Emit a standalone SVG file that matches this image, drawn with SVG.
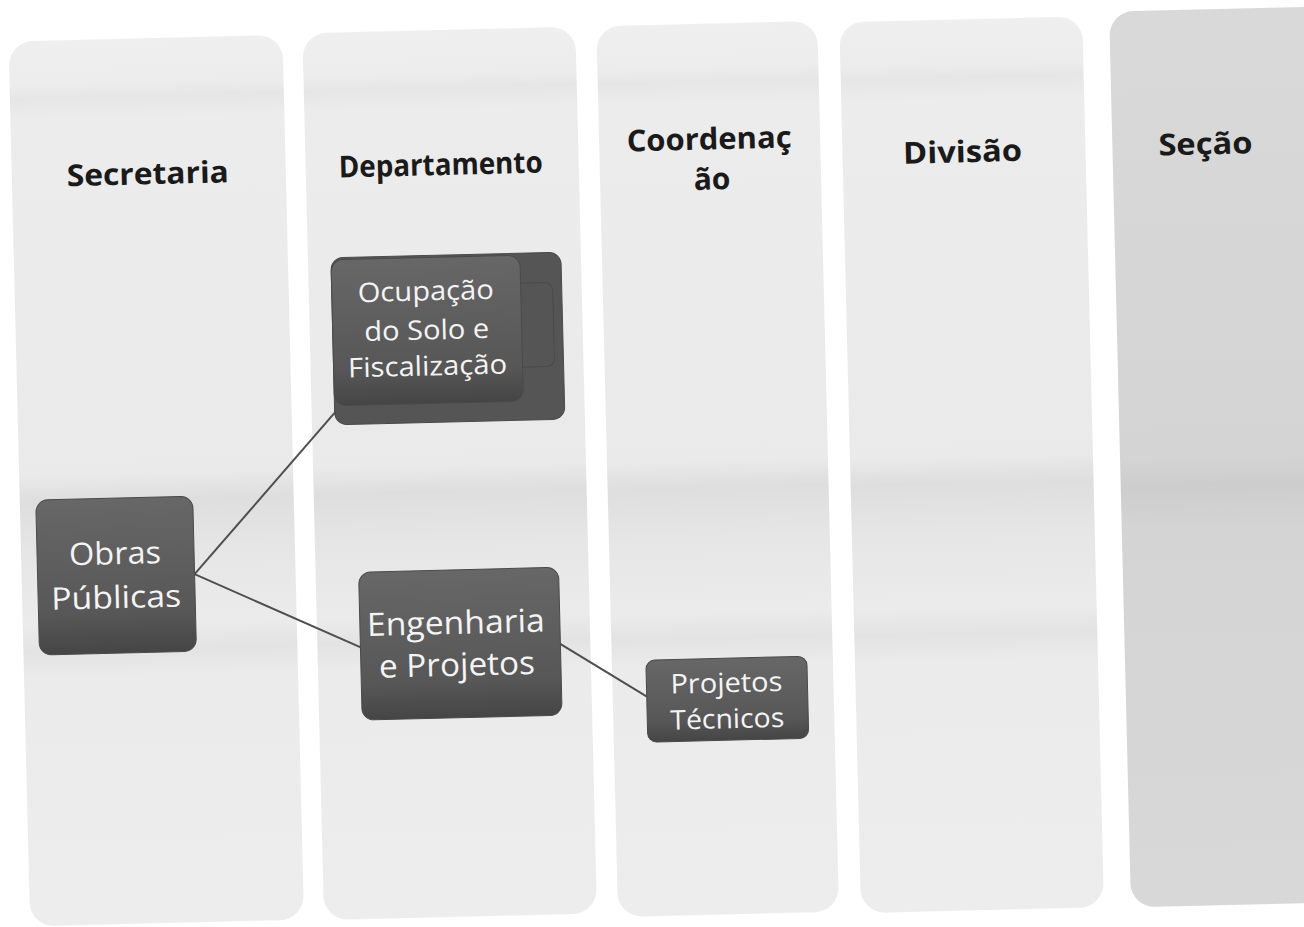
<svg xmlns="http://www.w3.org/2000/svg" width="1304" height="927" viewBox="0 0 1304 927">
  <defs>
    <linearGradient id="colFill" x1="0" y1="0" x2="0" y2="1">
      <stop offset="0" stop-color="#efefef"/>
      <stop offset="0.05" stop-color="#ececec"/>
      <stop offset="0.065" stop-color="#e6e6e6"/>
      <stop offset="0.09" stop-color="#ececec"/>
      <stop offset="0.49" stop-color="#eaeaea"/>
      <stop offset="0.52" stop-color="#dedede"/>
      <stop offset="0.58" stop-color="#e6e6e6"/>
      <stop offset="0.66" stop-color="#ebebeb"/>
      <stop offset="0.69" stop-color="#e3e3e3"/>
      <stop offset="0.72" stop-color="#ebebeb"/>
      <stop offset="1" stop-color="#ededed"/>
    </linearGradient>
    <linearGradient id="colFillDark" x1="0" y1="0" x2="0" y2="1">
      <stop offset="0" stop-color="#d9d9d9"/>
      <stop offset="0.5" stop-color="#d4d4d4"/>
      <stop offset="0.53" stop-color="#cdcdcd"/>
      <stop offset="0.58" stop-color="#d4d4d4"/>
      <stop offset="1" stop-color="#d8d8d8"/>
    </linearGradient>
    <linearGradient id="nodeFill" x1="0" y1="0" x2="0" y2="1">
      <stop offset="0" stop-color="#676767"/>
      <stop offset="0.75" stop-color="#575757"/>
      <stop offset="1" stop-color="#454545"/>
    </linearGradient>
    <style>
      .col { fill: url(#colFill); }
      .colDark { fill: url(#colFillDark); }
      .hdr { font-family: "Open Sans", "Liberation Sans", sans-serif; font-weight: 700; font-size: 30px; fill: #1a1a1a; text-anchor: middle; }
      .node { fill: url(#nodeFill); stroke: #4a4a4a; stroke-width: 1; }
      .nodeBack { fill: #555555; stroke: #4a4a4a; stroke-width: 1; }
      .lbl { font-family: "Open Sans", "Liberation Sans", sans-serif; font-weight: 400; fill: #f4f4f4; text-anchor: middle; }
      .conn { stroke: #4e4e4e; stroke-width: 2; fill: none; }
    </style>
  </defs>
  <rect width="1304" height="927" fill="#ffffff"/>
  <g transform="rotate(-1.4 652 463)">
    <g id="col-secretaria">
      <rect class="col" x="19" y="26" width="274" height="885" rx="24"/>
      <text class="hdr" x="155" y="172" textLength="162" lengthAdjust="spacingAndGlyphs">Secretaria</text>
    </g>
    <g id="col-departamento">
      <rect class="col" x="313" y="25" width="273" height="887" rx="24"/>
      <text class="hdr" x="448" y="170" textLength="204" lengthAdjust="spacingAndGlyphs">Departamento</text>
    </g>
    <g id="col-coordenacao">
      <rect class="col" x="607" y="25" width="221" height="891" rx="24"/>
      <text class="hdr" x="717" y="151" textLength="165" lengthAdjust="spacingAndGlyphs">Coordenaç</text>
      <text class="hdr" x="719" y="191">ão</text>
    </g>
    <g id="col-divisao">
      <rect class="col" x="850" y="27" width="243" height="891" rx="24"/>
      <text class="hdr" x="970" y="170" textLength="119" lengthAdjust="spacingAndGlyphs">Divisão</text>
    </g>
    <g id="col-secao">
      <rect class="colDark" x="1120" y="23" width="220" height="896" rx="24"/>
      <text class="hdr" x="1213" y="168" textLength="94" lengthAdjust="spacingAndGlyphs">Seção</text>
    </g>

    <g id="connectors">
      <line class="conn" x1="192" y1="563" x2="337" y2="404"/>
      <line class="conn" x1="192" y1="563" x2="358" y2="641"/>
      <line class="conn" x1="555" y1="641" x2="642" y2="697"/>
    </g>

    <g id="node-obras">
      <rect class="node" x="35" y="485" width="157" height="155" rx="12"/>
      <text class="lbl" font-size="31" x="113" y="551" textLength="92" lengthAdjust="spacingAndGlyphs">Obras</text>
      <text class="lbl" font-size="31" x="113" y="595" textLength="130" lengthAdjust="spacingAndGlyphs">Públicas</text>
    </g>
    <g id="node-ocupacao">
      <rect class="nodeBack" x="336" y="250" width="230" height="167" rx="12"/>
      <rect class="nodeBack" x="345" y="280" width="212" height="84" rx="8" fill="#5e5e5e"/>
      <rect class="node" x="336" y="252" width="189" height="146" rx="12"/>
      <text class="lbl" font-size="27" x="430" y="295" textLength="136" lengthAdjust="spacingAndGlyphs">Ocupação</text>
      <text class="lbl" font-size="27" x="430" y="334" textLength="125" lengthAdjust="spacingAndGlyphs">do Solo e</text>
      <text class="lbl" font-size="27" x="430" y="370" textLength="159" lengthAdjust="spacingAndGlyphs">Fiscalização</text>
    </g>
    <g id="node-engenharia">
      <rect class="node" x="356" y="565" width="200" height="148" rx="12"/>
      <text class="lbl" font-size="32" x="452" y="629" textLength="178" lengthAdjust="spacingAndGlyphs">Engenharia</text>
      <text class="lbl" font-size="32" x="452" y="671" textLength="156" lengthAdjust="spacingAndGlyphs">e Projetos</text>
    </g>
    <g id="node-projetos">
      <rect class="node" x="641" y="660" width="161" height="82" rx="9"/>
      <text class="lbl" font-size="27" x="721" y="694" textLength="112" lengthAdjust="spacingAndGlyphs">Projetos</text>
      <text class="lbl" font-size="27" x="721" y="730" textLength="114" lengthAdjust="spacingAndGlyphs">Técnicos</text>
    </g>
  </g>
</svg>
